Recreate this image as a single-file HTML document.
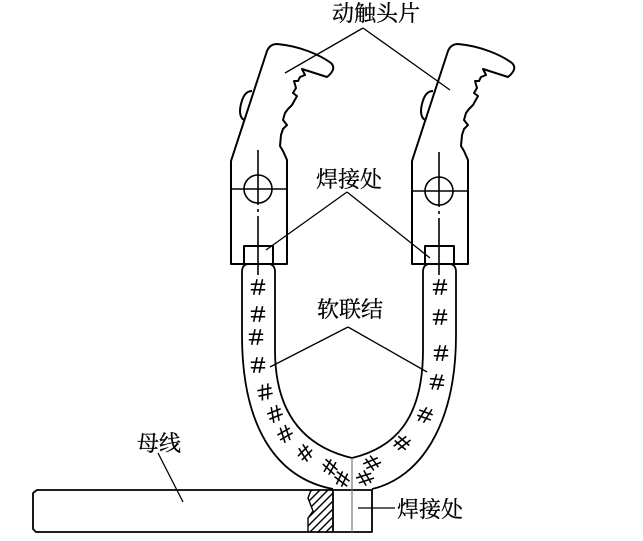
<!DOCTYPE html>
<html>
<head>
<meta charset="utf-8">
<style>
html,body{margin:0;padding:0;background:#fff;}
svg{display:block;}
text{font-family:"Liberation Serif","Noto Serif CJK SC","Noto Sans CJK SC",serif;font-size:22px;fill:#000;stroke:#000;stroke-width:0.3;}
</style>
</head>
<body>
<svg width="643" height="541" viewBox="0 0 643 541" xmlns="http://www.w3.org/2000/svg">
<rect width="643" height="541" fill="#fff"/>
<defs>
  <g id="contact" fill="none" stroke="#000" stroke-width="2" stroke-linejoin="round">
    <path d="M231,264 L231,161 L267,51 Q270,44 277,44 C300,46 320,55 331,63 Q337,69 327,77 L302,69 L305,75 L300,77 L298,81 L294,81 L296,88 L293,93 L297,96 L292,105 L288,109 L285,113 L283,120 L287,125 L283,129 L281,135 L280,146 L283,151 L287,160 L287,166 L287,264 Z"/>
    <path d="M245,120 C240,119 239,112 241,104 C243,96 246,91 252,91"/>
    <rect x="244" y="246" width="29" height="18"/>
  </g>
  <g id="hash" stroke="#000" stroke-width="1.3" fill="none" transform="scale(1.2)">
    <line x1="-6" y1="-2.3" x2="6" y2="-2.3"/>
    <line x1="-6" y1="2.3" x2="6" y2="2.3"/>
    <line x1="-0.8" y1="-6.5" x2="-3.6" y2="6.5"/>
    <line x1="3.8" y1="-6.5" x2="1" y2="6.5"/>
  </g>
  <clipPath id="hc">
    <polygon points="311,490 333,490 333,532 308,532 308,518 313,511 308,498"/>
  </clipPath>
</defs>

<!-- contacts -->
<use href="#contact"/>
<use href="#contact" transform="translate(181,0)"/>

<g fill="none" stroke="#000" stroke-width="1.6">
  <line x1="231" y1="189" x2="287" y2="189"/>
  <circle cx="258" cy="189" r="14"/>
  <line x1="258" y1="150" x2="258" y2="205"/>
  <line x1="258" y1="209" x2="258" y2="212"/>
  <line x1="258" y1="216" x2="258" y2="275"/>

  <line x1="412" y1="191" x2="468" y2="191"/>
  <circle cx="439" cy="191" r="14"/>
  <line x1="439" y1="152" x2="439" y2="207"/>
  <line x1="439" y1="211" x2="439" y2="214"/>
  <line x1="439" y1="218" x2="439" y2="275"/>
</g>

<!-- flexible straps -->
<g fill="none" stroke="#000" stroke-width="1.8">
  <path d="M242,335 L242,272 Q242,264 249,264 L268,264 Q275,264 275,272 L275,350 C275,420 310,448 352,458"/>
  <path d="M242,335 C242,425 275,478 333,489"/>
  <path d="M456,335 L456,272 Q456,264 449,264 L430,264 Q423,264 423,272 L423,350 C423,420 394,448 352,458"/>
  <path d="M456,335 C456,425 420,478 372,489"/>
</g>

<!-- hashes -->
<use href="#hash" transform="translate(258,287)"/>
<use href="#hash" transform="translate(258,314)"/>
<use href="#hash" transform="translate(256,337)"/>
<use href="#hash" transform="translate(258,365)"/>
<use href="#hash" transform="translate(265,392) rotate(-12)"/>
<use href="#hash" transform="translate(275,414) rotate(-22)"/>
<use href="#hash" transform="translate(285,434) rotate(-30)"/>
<use href="#hash" transform="translate(305,453) rotate(-45)"/>
<use href="#hash" transform="translate(330,467) rotate(-60)"/>
<use href="#hash" transform="translate(342,479) rotate(-65)"/>

<use href="#hash" transform="translate(440,287)"/>
<use href="#hash" transform="translate(440,317)"/>
<use href="#hash" transform="translate(441,353)"/>
<use href="#hash" transform="translate(437,382) rotate(5)"/>
<use href="#hash" transform="translate(425,415) rotate(20)"/>
<use href="#hash" transform="translate(402,443) rotate(40)"/>
<use href="#hash" transform="translate(372,463) rotate(55)"/>
<use href="#hash" transform="translate(365,478) rotate(60)"/>

<!-- bus bar -->
<g fill="none" stroke="#000" stroke-width="1.8" stroke-linejoin="round">
  <path d="M37,490 L372,490 L372,532 L36,532 L33,529 L33,493 Z"/>
  <line x1="333" y1="490" x2="333" y2="532"/>
  <path d="M311,490 L308,498 L313,511 L308,518 L308,532" stroke-width="1.4"/>
</g>
<g clip-path="url(#hc)" stroke="#000" stroke-width="1.4">
  <line x1="270" y1="532" x2="312" y2="490"/>
  <line x1="278" y1="532" x2="320" y2="490"/>
  <line x1="286" y1="532" x2="328" y2="490"/>
  <line x1="294" y1="532" x2="336" y2="490"/>
  <line x1="302" y1="532" x2="344" y2="490"/>
  <line x1="310" y1="532" x2="352" y2="490"/>
  <line x1="318" y1="532" x2="360" y2="490"/>
  <line x1="326" y1="532" x2="368" y2="490"/>
</g>
<line x1="352" y1="458" x2="352" y2="532" stroke="#777" stroke-width="1.2"/>

<!-- leaders -->
<g stroke="#000" stroke-width="1.3" fill="none">
  <line x1="363" y1="28" x2="285" y2="73"/>
  <line x1="363" y1="28" x2="450" y2="90"/>
  <line x1="347" y1="192" x2="266" y2="250"/>
  <line x1="347" y1="192" x2="430" y2="258"/>
  <line x1="348" y1="327" x2="270" y2="367"/>
  <line x1="348" y1="327" x2="427" y2="372"/>
  <line x1="158" y1="453" x2="183" y2="502"/>
  <line x1="358" y1="508" x2="395" y2="508"/>
</g>

<!-- labels -->
<text x="332" y="21">动触头片</text>
<text x="316" y="187">焊接处</text>
<text x="317" y="317">软联结</text>
<text x="137" y="451">母线</text>
<text x="397" y="517">焊接处</text>
</svg>
</body>
</html>
